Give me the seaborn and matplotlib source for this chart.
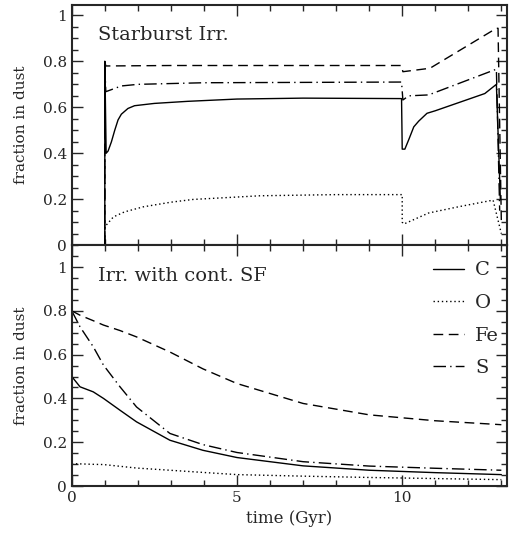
import matplotlib
matplotlib.use("Agg")
import matplotlib.pyplot as plt
import seaborn as sns
from matplotlib.ticker import MultipleLocator

# Starburst Irr. (top panel)
sb_c_t = [1.0, 1.0, 1.04, 1.1, 1.2, 1.3, 1.4, 1.5, 1.7, 1.9, 2.5, 3.5, 5.0, 7.0, 9.98,
          10.0, 10.08, 10.2, 10.35, 10.5, 10.75, 11.0, 11.5, 12.0, 12.5, 12.85, 12.97]
sb_c_y = [0.0, 0.80, 0.40, 0.41, 0.45, 0.50, 0.545, 0.57, 0.595, 0.607, 0.617, 0.626, 0.636, 0.64, 0.638,
          0.418, 0.418, 0.46, 0.515, 0.54, 0.574, 0.585, 0.61, 0.635, 0.66, 0.70, 0.20]
sb_o_t = [1.0, 1.0, 1.26, 1.6, 2.17, 3.0, 3.67, 5.7, 8.0, 10.0, 10.0, 10.05, 10.8, 11.7, 12.75, 13.0]
sb_o_y = [0.0, 0.08, 0.123, 0.145, 0.167, 0.187, 0.199, 0.215, 0.22, 0.22, 0.10, 0.092, 0.14, 0.167, 0.196, 0.05]
sb_fe_t = [1.0, 1.0, 1.03, 3.0, 9.98, 10.02, 10.84, 12.85, 12.9, 13.0]
sb_fe_y = [0.0, 0.80, 0.78, 0.782, 0.782, 0.755, 0.77, 0.944, 0.944, 0.10]
sb_s_t = [1.0, 1.0, 1.03, 1.5, 2.0, 4.0, 9.98, 10.02, 10.2, 10.8, 12.85, 12.95]
sb_s_y = [0.0, 0.78, 0.668, 0.693, 0.700, 0.707, 0.71, 0.632, 0.650, 0.654, 0.766, 0.15]

# Irr. with cont. SF (bottom panel)
cs_t = [0.0, 0.25, 0.65, 0.96, 1.46, 1.96, 2.97, 3.97, 5.0, 7.0, 9.0, 11.0, 13.0]
cs_c = [0.50, 0.453, 0.43, 0.40, 0.346, 0.293, 0.209, 0.163, 0.13, 0.092, 0.072, 0.061, 0.052]
cs_o = [0.102, 0.101, 0.099, 0.098, 0.09, 0.082, 0.072, 0.062, 0.052, 0.045, 0.039, 0.034, 0.029]
cs_fe = [0.80, 0.78, 0.755, 0.735, 0.71, 0.681, 0.612, 0.535, 0.468, 0.377, 0.325, 0.298, 0.28]
cs_s = [0.80, 0.727, 0.636, 0.552, 0.453, 0.361, 0.24, 0.189, 0.153, 0.111, 0.091, 0.081, 0.072]

labels = ["C", "O", "Fe", "S"]
styles = ["-", (0, (1, 2)), (0, (7, 4)), (0, (9, 3, 1, 3))]

sns.set_style("ticks")
plt.rcParams["font.family"] = ["DejaVu Serif"]

fig = plt.figure(figsize=(5.09, 5.40), dpi=100)
ax1 = fig.add_axes([0.141, 0.546, 0.855, 0.445])
ax2 = fig.add_axes([0.141, 0.100, 0.855, 0.446], sharex=ax1)

top = [(sb_c_t, sb_c_y), (sb_o_t, sb_o_y), (sb_fe_t, sb_fe_y), (sb_s_t, sb_s_y)]
for (t, y), ls in zip(top, styles):
    sns.lineplot(x=t, y=y, ax=ax1, color="k", lw=1.0, linestyle=ls,
                 estimator=None, sort=False)

for y, ls, lab in zip([cs_c, cs_o, cs_fe, cs_s], styles, labels):
    sns.lineplot(x=cs_t, y=y, ax=ax2, color="k", lw=1.0, linestyle=ls,
                 estimator=None, sort=False, label=lab)

for ax in (ax1, ax2):
    ax.xaxis.set_major_locator(MultipleLocator(5))
    ax.xaxis.set_minor_locator(MultipleLocator(1))
    ax.yaxis.set_major_locator(MultipleLocator(0.2))
    ax.yaxis.set_minor_locator(MultipleLocator(0.05))
    ax.tick_params(which="both", direction="in", top=True, right=True, labelsize=11)
    ax.tick_params(which="major", length=8, width=1)
    ax.tick_params(which="minor", length=4, width=1)
    for sp in ax.spines.values():
        sp.set_linewidth(1.5)
    ax.set_ylabel("fraction in dust", fontsize=11)
    ax.yaxis.set_major_formatter(plt.FuncFormatter(lambda v, p: f"{v:g}"))

ax1.set_xlim(0, 13.17)
ax1.set_ylim(0, 1.046)
ax2.set_ylim(0, 1.1)
ax1.tick_params(labelbottom=False)
ax2.xaxis.set_major_formatter(plt.FuncFormatter(lambda v, p: f"{v:g}"))
ax2.set_xlabel("time (Gyr)", fontsize=12)

ax1.text(0.06, 0.91, "Starburst Irr.", transform=ax1.transAxes, fontsize=14, va="top")
ax2.text(0.06, 0.91, "Irr. with cont. SF", transform=ax2.transAxes, fontsize=14, va="top")

ax2.legend(loc="upper right", bbox_to_anchor=(1.0, 0.965), frameon=False, fontsize=14,
           handlelength=1.6, handletextpad=0.6, labelspacing=0.75, borderaxespad=0)

ax1.yaxis.set_label_coords(-0.1, 0.5)
ax2.yaxis.set_label_coords(-0.1, 0.5)

fig.savefig("out.png", dpi=100)
